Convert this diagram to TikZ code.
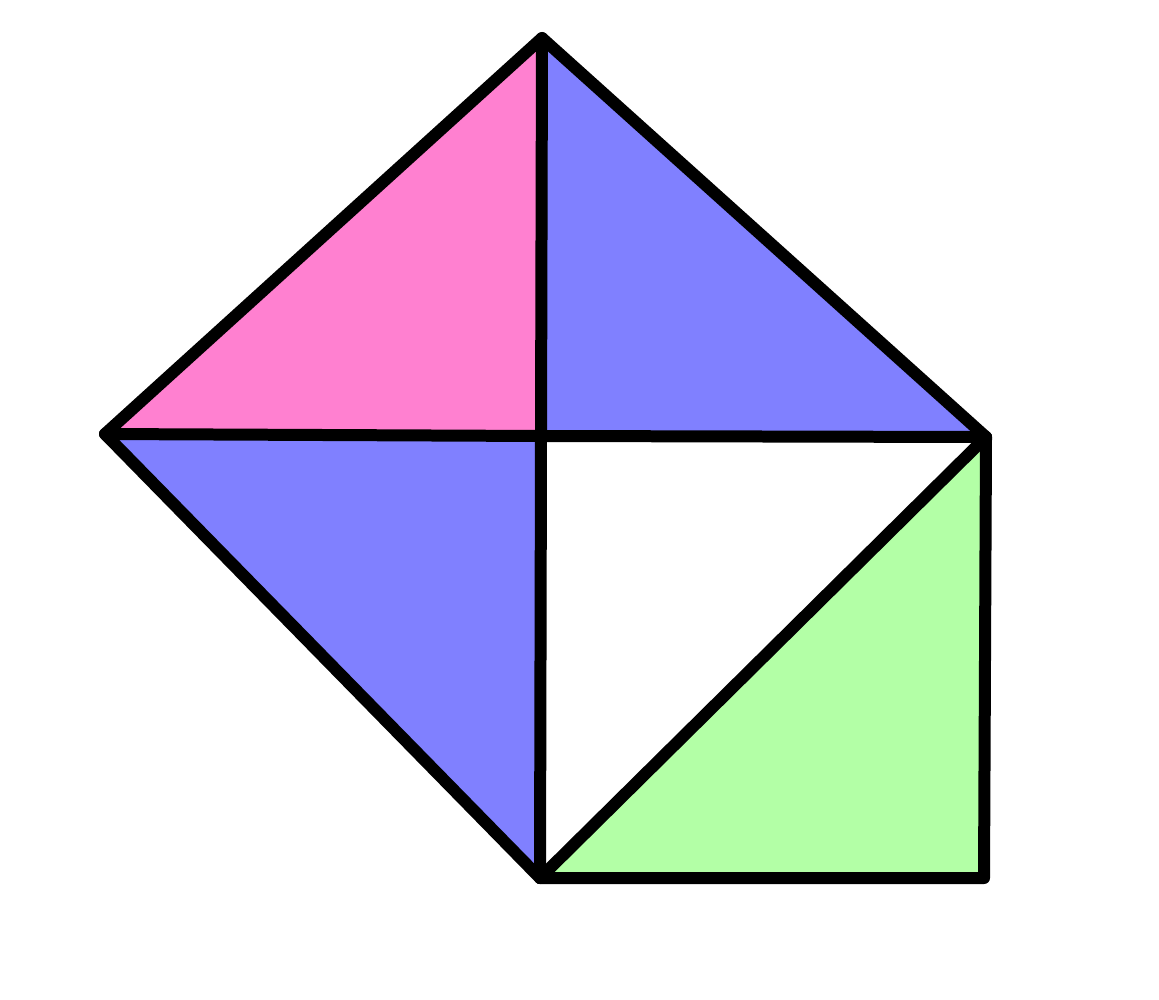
\documentclass[tikz,border=0pt]{standalone}
\usepackage{tikz}

\definecolor{pinkfill}{RGB}{255,128,208}
\definecolor{bluefill}{RGB}{128,128,255}
\definecolor{greenfill}{RGB}{179,255,166}

\begin{document}
\begin{tikzpicture}
[
    x=0.02cm, y=-0.02cm,
    edge/.style={draw=black, line width=0.24cm, line cap=round, line join=round},
]
\useasboundingbox (0,0) rectangle (1159,1000);
\coordinate (top) at (542,38);
\coordinate (left) at (105,434);
\coordinate (mid) at (541,436);
\coordinate (right) at (986,437);
\coordinate (bottom) at (540,878);
\coordinate (corner) at (984,878);
\fill [pinkfill] (top) -- (left) -- (mid) -- cycle;
\fill [bluefill] (top) -- (mid) -- (right) -- cycle;
\fill [bluefill] (left) -- (mid) -- (bottom) -- cycle;
\fill [greenfill] (bottom) -- (right) -- (corner) -- cycle;
\draw [edge] (top) -- (left) -- (bottom) -- (corner) -- (right) -- cycle;
\draw [edge] (top) -- (mid) -- (bottom);
\draw [edge] (left) -- (mid) -- (right);
\draw [edge] (right) -- (bottom);
\end{tikzpicture}
\end{document}
